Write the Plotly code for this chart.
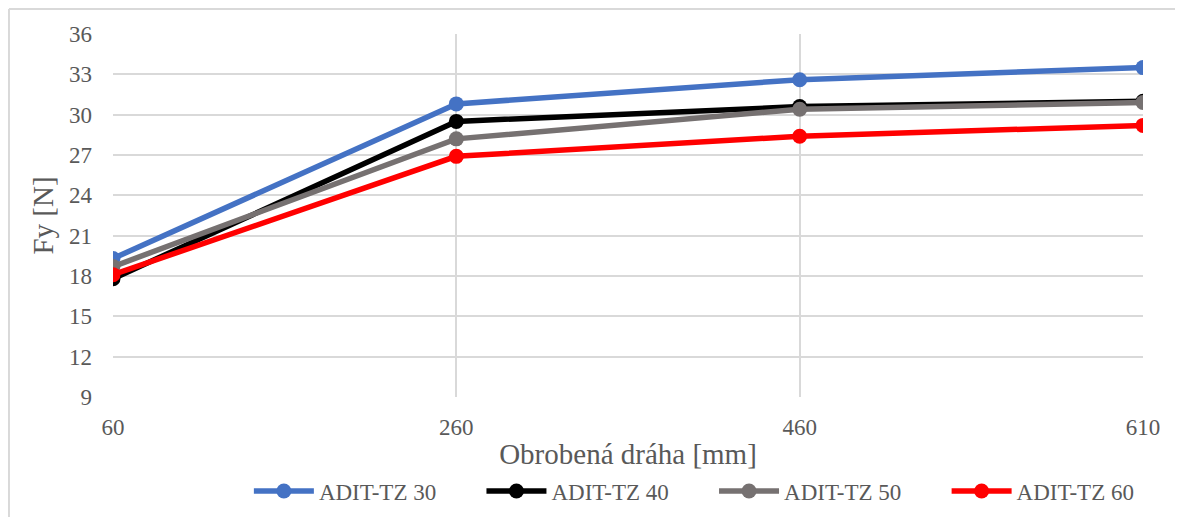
import plotly.graph_objects as go

categories = ["60", "260", "460", "610"]
series_names = ["ADIT-TZ 30", "ADIT-TZ 40", "ADIT-TZ 50", "ADIT-TZ 60"]
tz30 = [19.3, 30.8, 32.6, 33.5]
tz40 = [17.8, 29.5, 30.6, 31.0]
tz50 = [18.7, 28.2, 30.4, 30.9]
tz60 = [18.1, 26.9, 28.4, 29.2]
colors = ["#4472C4", "#000000", "#767171", "#FF0000"]
y_ticks = [9, 12, 15, 18, 21, 24, 27, 30, 33, 36]

fig = go.Figure()
pad = "\u00a0" * 7
all_series = [tz30, tz40, tz50, tz60]
for i, (name, vals, c) in enumerate(zip(series_names, all_series, colors)):
    label = name + (pad if i < len(series_names) - 1 else "")
    fig.add_trace(go.Scatter(
        x=categories, y=vals, name=label, mode="lines+markers",
        line=dict(color=c, width=5.5),
        marker=dict(color=c, size=15),
    ))

font_family = "Liberation Serif, Times New Roman, serif"
W, H = 1175, 509
L, T, PW, PH = 105, 26, 1030, 363
fig.update_layout(
    width=W, height=H,
    margin=dict(l=L, r=W - L - PW, t=T, b=H - T - PH, autoexpand=False),
    paper_bgcolor="white", plot_bgcolor="white",
    font=dict(family=font_family, color="#595959", size=23),
    showlegend=True,
    legend=dict(orientation="h", xref="container", yref="container",
                x=0.205, xanchor="left", y=0.051, yanchor="middle",
                font=dict(family=font_family, size=23, color="#595959"), traceorder="normal",
                itemwidth=60, tracegroupgap=0),
    xaxis=dict(type="category", range=[0, 3], showgrid=True, gridcolor="#D9D9D9",
               gridwidth=2, zeroline=False, showline=False, ticks="",
               ticklabelstandoff=14,
               tickfont=dict(family=font_family, size=23, color="#595959"),
               title=dict(text="Obrobená dráha [mm]", font=dict(family=font_family, size=29, color="#595959"), standoff=4)),
    yaxis=dict(range=[9, 36], tickvals=y_ticks, showgrid=True, gridcolor="#D9D9D9",
               gridwidth=2, zeroline=False, showline=False, ticks="",
               ticklabelstandoff=20,
               tickfont=dict(family=font_family, size=23, color="#595959"),
               title=dict(text="Fy [N]", font=dict(family=font_family, size=29, color="#595959"), standoff=6)),
    shapes=[
        dict(type="line", xref="paper", yref="paper", x0=-0.101, x1=1.1, y0=1.069, y1=1.069,
             line=dict(color="#D9D9D9", width=2)),
        dict(type="line", xref="paper", yref="paper", x0=-0.101, x1=-0.101, y0=1.069, y1=-0.4,
             line=dict(color="#D9D9D9", width=2)),
    ],
)

fig.write_html("out.html")
